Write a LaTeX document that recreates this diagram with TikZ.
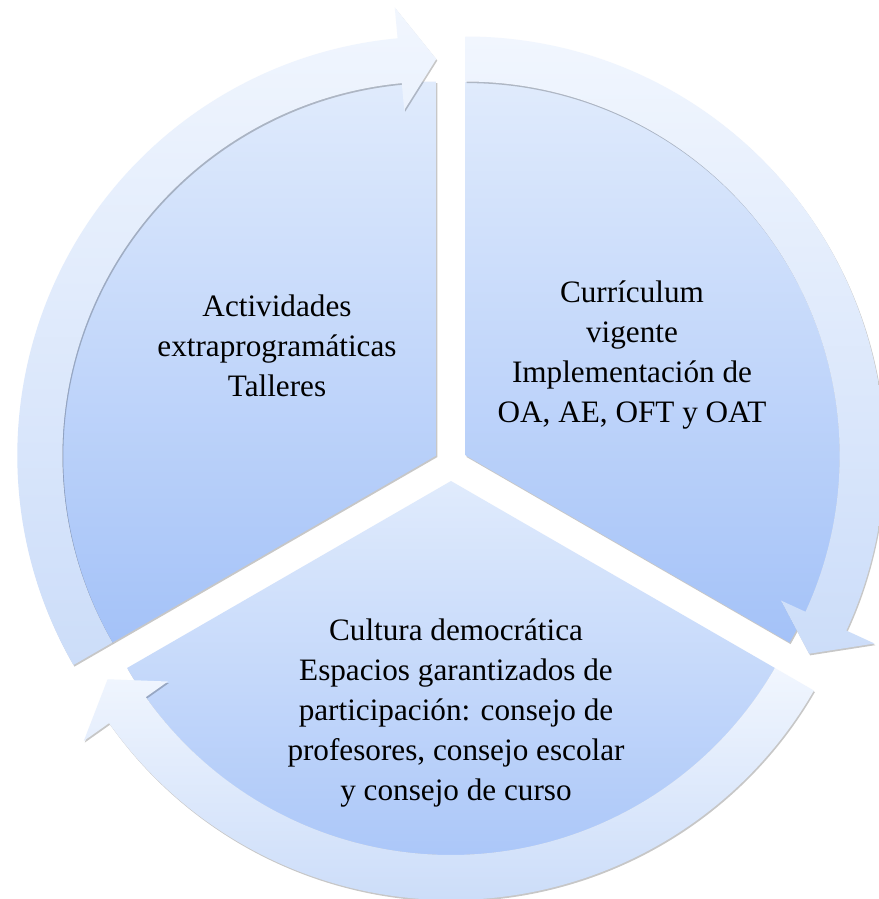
\documentclass[tikz,border=0pt]{standalone}
\usepackage{fontspec}
\setmainfont{Liberation Serif}
\usetikzlibrary{shadows}
\definecolor{wtop}{HTML}{E0EBFC}
\definecolor{wbot}{HTML}{A4C2F8}
\definecolor{btop}{HTML}{F1F6FE}
\definecolor{bbot}{HTML}{CCDDF9}
\begin{document}
\begin{tikzpicture}[x=0.5pt,y=0.5pt,
  wedge/.style={top color=wtop, bottom color=wbot,
    drop shadow={shadow xshift=0.5pt, shadow yshift=-0.8pt, opacity=0.22, fill=black}},
  band/.style={top color=btop, bottom color=bbot,
    drop shadow={shadow xshift=0.5pt, shadow yshift=-0.8pt, opacity=0.22, fill=black}},
  lbl/.style={font=\fontsize{15.6}{20}\selectfont, anchor=base, inner sep=0pt, text=black}]
\fill[white] (0,0) rectangle (878,-899);
\useasboundingbox (0,0) rectangle (878,-899);
% wedges
\begin{scope}[shift={(436.3,-455.5)}]
  \path[wedge] (0,0) -- (90:374) arc[start angle=90,end angle=210,radius=374] -- cycle;
\end{scope}
\begin{scope}[shift={(465.7,-455.5)}]
  \path[wedge] (0,0) -- (-30:374) arc[start angle=-30,end angle=90,radius=374] -- cycle;
\end{scope}
\begin{scope}[shift={(451,-481)}]
  \path[wedge] (0,0) -- (210:374) arc[start angle=210,end angle=330,radius=374] -- cycle;
\end{scope}
% arrow bands
\begin{scope}[shift={(436.3,-455.5)}]
  \path[band] (210:419) arc[start angle=210,end angle=95.3,radius=419] -- (95.3:450) -- (90:396.5) -- (95.3:347) -- (95.3:374) arc[start angle=95.3,end angle=210,radius=374] -- cycle;
\end{scope}
\begin{scope}[shift={(465.7,-455.5)}]
  \path[band] (90:419) arc[start angle=90,end angle=-24.7,radius=419] -- (-24.7:450) -- (-30:396.5) -- (-24.7:347) -- (-24.7:374) arc[start angle=-24.7,end angle=90,radius=374] -- cycle;
\end{scope}
\begin{scope}[shift={(451,-481)}]
  \path[band] (-30:419) arc[start angle=-30,end angle=-144.7,radius=419] -- (-144.7:450) -- (-150:396.5) -- (-144.7:347) -- (-144.7:374) arc[start angle=-144.7,end angle=-30,radius=374] -- cycle;
\end{scope}
% texts
\node[lbl] (la) at (277,-316) {Actividades};
\node[lbl] (lb) at (277,-356) {extraprogramáticas};
\node[lbl] (lc) at (277,-396) {Talleres};
\node[lbl] (ra) at (632,-302) {Currículum};
\node[lbl] (rb) at (632,-342) {vigente};
\node[lbl] (rc) at (632,-382) {Implementación de};
\node[lbl] (rd) at (632,-422) {OA, AE, OFT y OAT};
\node[lbl] (ba) at (456,-640) {Cultura democrática};
\node[lbl] (bb) at (456,-680) {Espacios garantizados de};
\node[lbl] (bc) at (456,-720) {participación: consejo de};
\node[lbl] (bd) at (456,-760) {profesores, consejo escolar};
\node[lbl] (be) at (456,-800) {y consejo de curso};
\end{tikzpicture}
\end{document}
